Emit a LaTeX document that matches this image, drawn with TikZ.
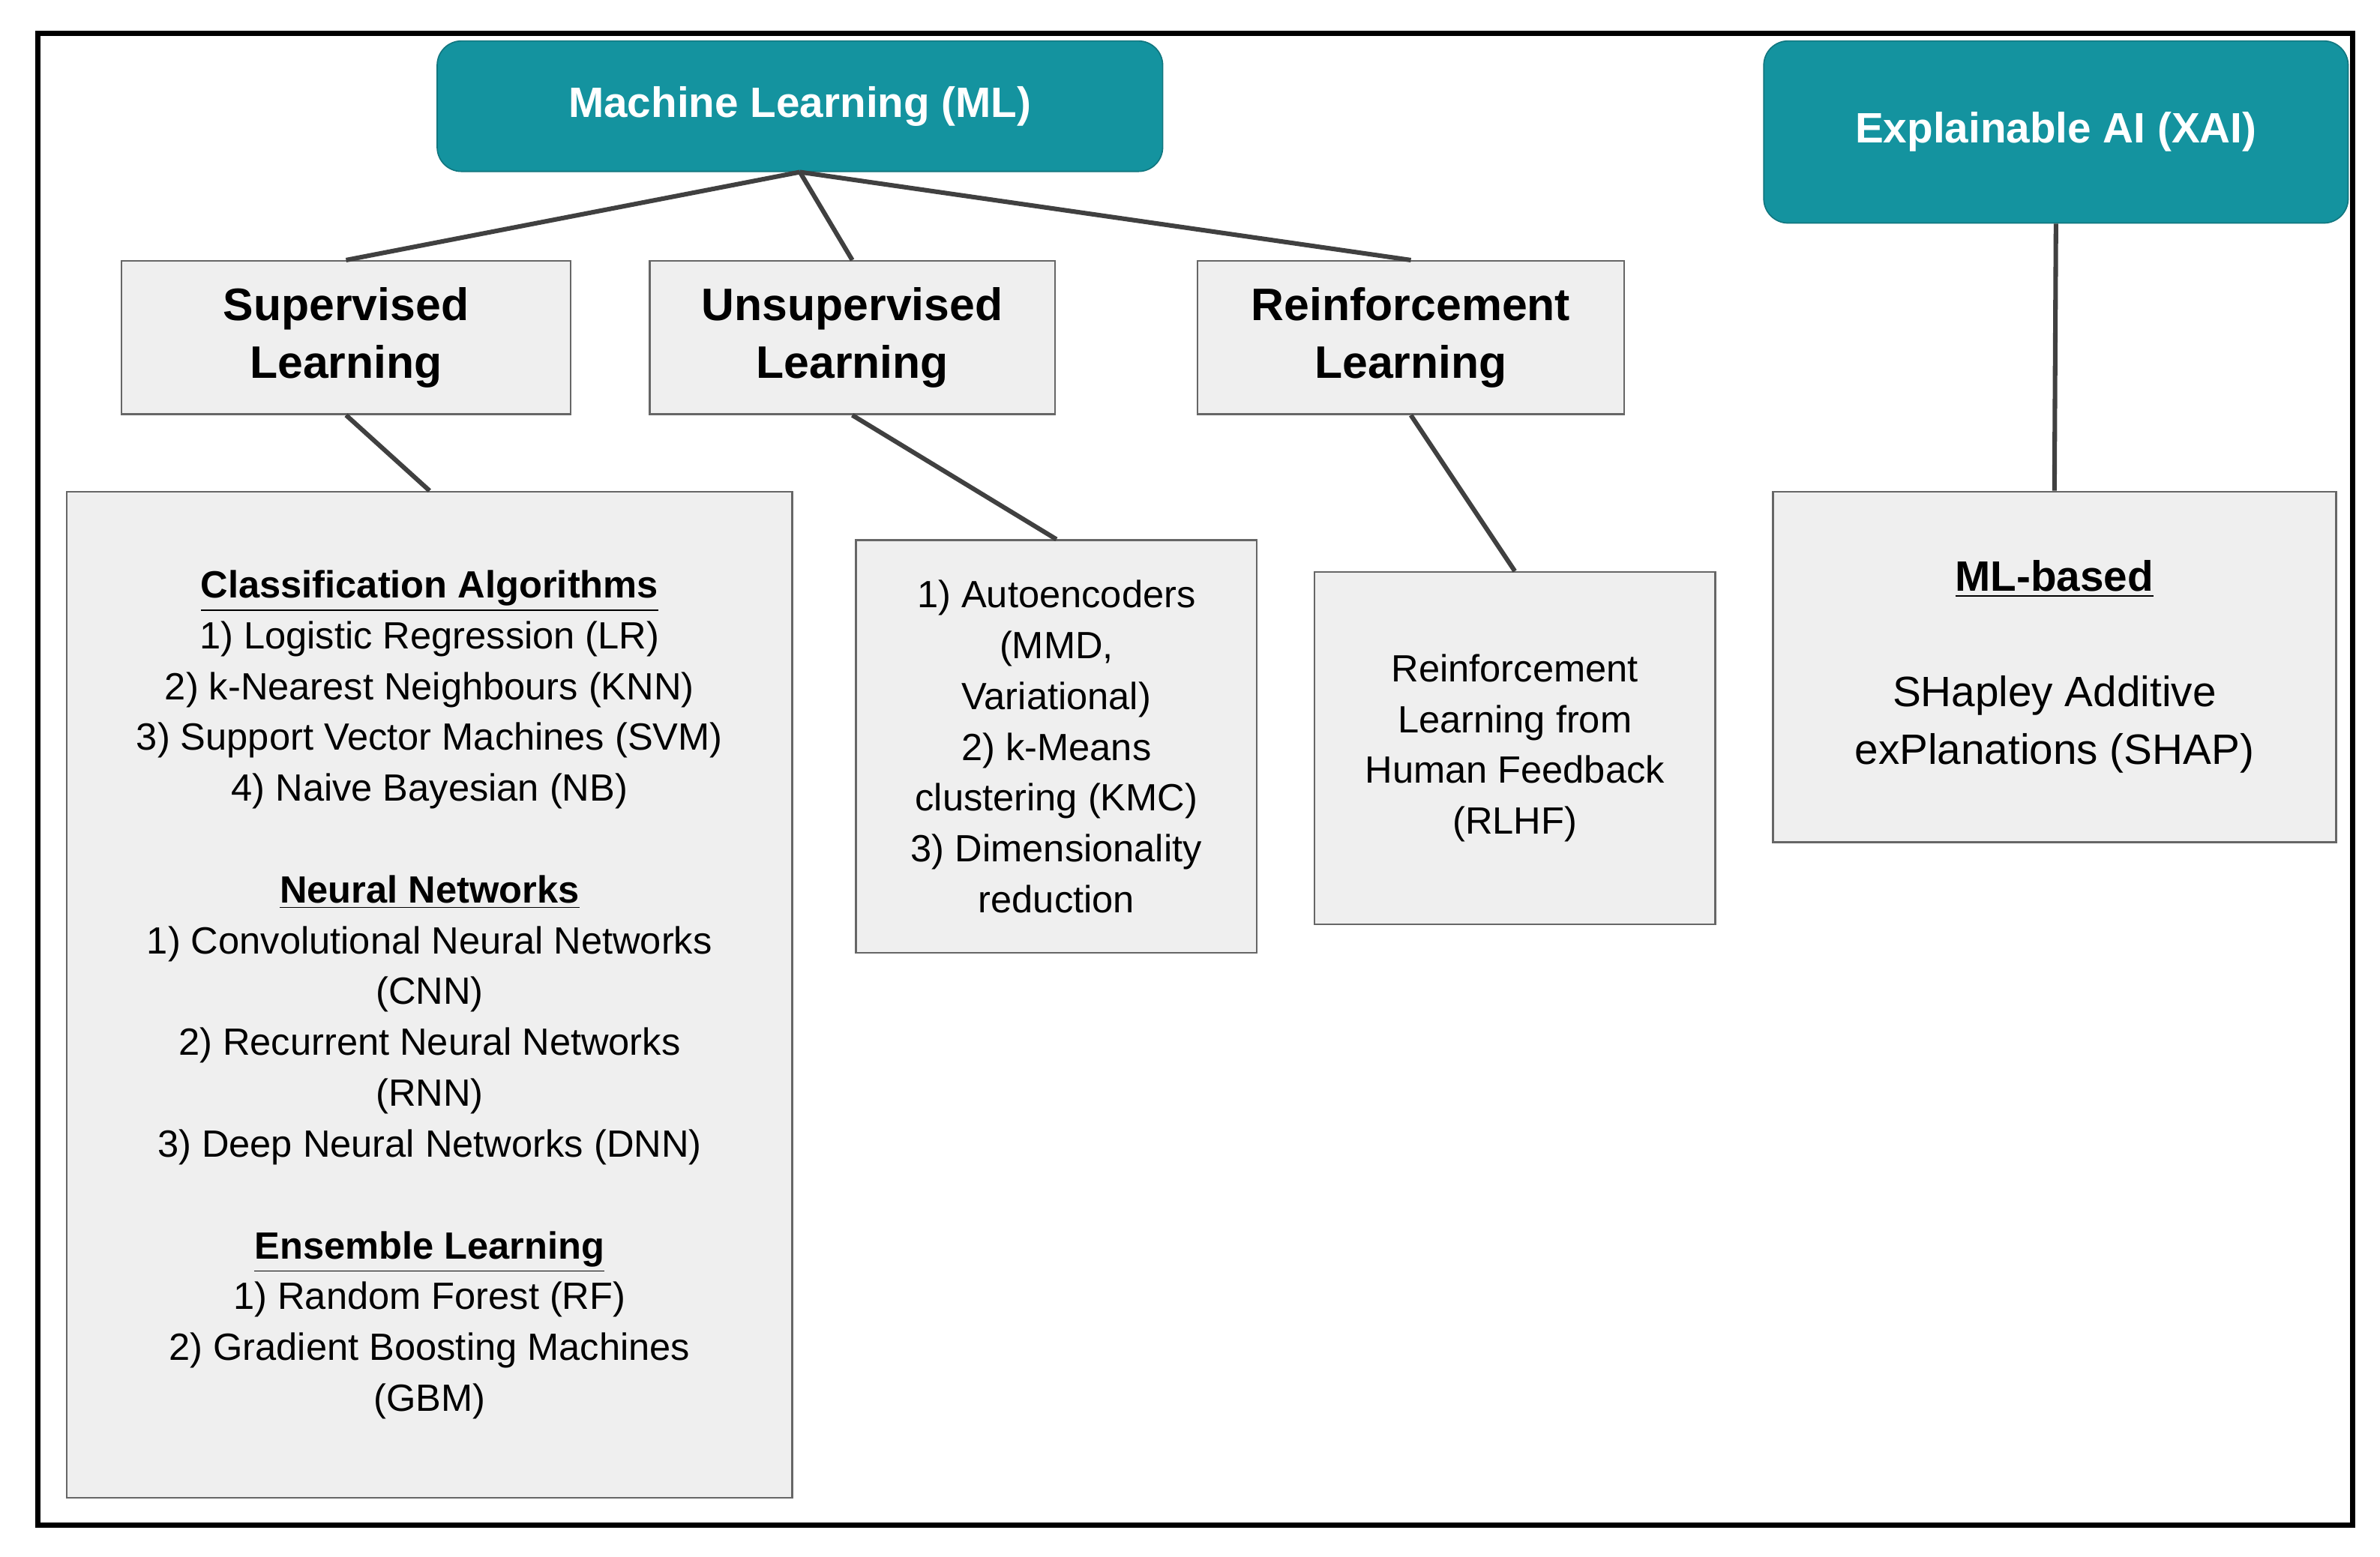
\documentclass[tikz,border=0pt]{standalone}
\usepackage{fontspec}
\setmainfont{Liberation Sans}
\definecolor{teal1}{HTML}{14939F}
\definecolor{boxfill}{HTML}{EFEFEF}
\definecolor{boxline}{HTML}{666666}
\begin{document}
\begin{tikzpicture}[x=0.5pt,y=-0.5pt,
  head/.style={draw=teal1!80!black,fill=teal1,rounded corners=8pt,text=white,font=\bfseries\fontsize{14}{17}\selectfont,inner sep=0pt},
  cat/.style={draw=boxline,fill=boxfill,line width=0.6pt,font=\bfseries\fontsize{15}{19}\selectfont,align=center,inner sep=0pt},
  det/.style={draw=boxline,fill=boxfill,line width=0.6pt,font=\fontsize{12.5}{16.75}\selectfont,align=center,inner sep=0pt},
  conn/.style={draw=black!75,line width=1.5pt}]
\useasboundingbox (0,0) rectangle (1568,1026);
\fill[white] (0,0) rectangle (1568,1026);
\draw[line width=1.6pt] (25,22) rectangle (1550,1005);
\node[head,minimum width=239pt,minimum height=43pt] (ml) at (527,70) {Machine Learning (ML)};
\node[head,minimum width=192.5pt,minimum height=60pt] (xai) at (1354.5,87) {Explainable AI (XAI)};
\node[cat,minimum width=148pt,minimum height=50.5pt] (sup) at (228,222.5) {Supervised\\Learning};
\node[cat,minimum width=133.5pt,minimum height=50.5pt] (uns) at (561.5,222.5) {Unsupervised\\Learning};
\node[cat,minimum width=140.5pt,minimum height=50.5pt] (rl) at (929.5,222.5) {Reinforcement\\Learning};
\node[det,minimum width=239pt,minimum height=331.5pt] (cls) at (283,655.5) {%
\textbf{\underline{Classification Algorithms}}\\1) Logistic Regression (LR)\\2) k-Nearest Neighbours (KNN)\\3) Support Vector Machines (SVM)\\4) Naive Bayesian (NB)\\[16.75pt]
\textbf{\underline{Neural Networks}}\\1) Convolutional Neural Networks\\(CNN)\\2) Recurrent Neural Networks\\(RNN)\\3) Deep Neural Networks (DNN)\\[16.75pt]
\textbf{\underline{Ensemble Learning}}\\1) Random Forest (RF)\\2) Gradient Boosting Machines\\(GBM)};
\node[det,minimum width=132pt,minimum height=136pt] (ud) at (696,492) {1) Autoencoders\\(MMD,\\Variational)\\2) k-Means\\clustering (KMC)\\3) Dimensionality\\reduction};
\node[det,minimum width=132pt,minimum height=116pt] (rd) at (998,493) {Reinforcement\\Learning from\\Human Feedback\\(RLHF)};
\node[det,minimum width=185.5pt,minimum height=115.5pt,font=\fontsize{14}{19}\selectfont] (mb) at (1353.5,439.5) {\textbf{\underline{ML-based}}\\[19pt]SHapley Additive\\exPlanations (SHAP)};
\draw[conn] (ml.south) -- (sup.north);
\draw[conn] (ml.south) -- (uns.north);
\draw[conn] (ml.south) -- (rl.north);
\draw[conn] (sup.south) -- (cls.north);
\draw[conn] (uns.south) -- (ud.north);
\draw[conn] (rl.south) -- (rd.north);
\draw[conn] (xai.south) -- (mb.north);
\end{tikzpicture}
\end{document}
